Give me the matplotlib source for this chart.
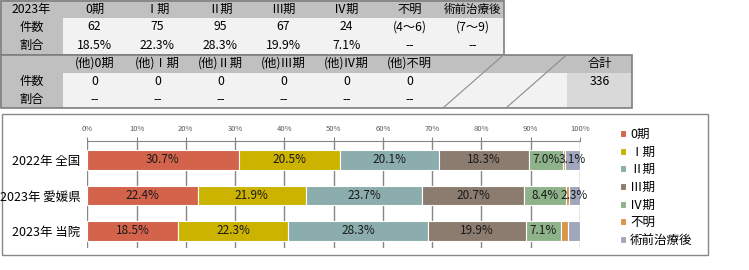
import matplotlib
matplotlib.use("Agg")
import matplotlib.pyplot as plt
from matplotlib.patches import Rectangle
import numpy as np

plt.rcParams['font.family'] = ['Noto Sans CJK JP', 'DejaVu Sans']

# ----------------------
# 表データ（2023年 当院）
# ----------------------
stage_cols = ["0期", "Ⅰ期", "Ⅱ期", "Ⅲ期", "Ⅳ期", "不明", "術前治療後"]
counts_2023 = ["62", "75", "95", "67", "24", "(4～6)", "(7～9)"]
ratio_2023 = ["18.5%", "22.3%", "28.3%", "19.9%", "7.1%", "--", "--"]
other_cols = ["(他)0期", "(他)Ⅰ期", "(他)Ⅱ期", "(他)Ⅲ期", "(他)Ⅳ期", "(他)不明"]
other_counts = ["0", "0", "0", "0", "0", "0"]
other_ratio = ["--", "--", "--", "--", "--", "--"]
total_count = "336"

# ----------------------
# グラフデータ（%）
# ----------------------
groups = ["2022年 全国", "2023年 愛媛県", "2023年 当院"]
stage_names = ["0期", "Ⅰ期", "Ⅱ期", "Ⅲ期", "Ⅳ期", "不明", "術前治療後"]
pct_zenkoku = [30.7, 20.5, 20.1, 18.3, 7.0, 0.3, 3.1]
pct_ehime = [22.4, 21.9, 23.7, 20.7, 8.4, 0.6, 2.3]
pct_touin = [18.5, 22.3, 28.3, 19.9, 7.1, 1.5, 2.4]
# 表示しないラベル (グループ番号, ステージ番号)
hidden_labels = [(0, 5), (1, 5), (2, 5), (2, 6)]

colors = ["#d4634b", "#cbb300", "#8badad", "#8c7c70", "#8eb38a", "#d9954b", "#a0a6bc"]

W, H = 749, 270
fig = plt.figure(figsize=(W / 100, H / 100), dpi=100)

def fx(x):
    return x / W

def fy(y):
    return 1 - y / H

# 背景用の全面Axes（ピクセル座標）
bg = fig.add_axes([0, 0, 1, 1])
bg.set_xlim(0, W)
bg.set_ylim(H, 0)
bg.axis("off")

GRAY = "#c0c0c0"
LIGHT = "#f2f2f2"
EDGE = "#7f7f7f"
cw = 63
tfs = 8.8

def cell(x0, x1, y0, y1, color, text="", fs=tfs):
    bg.add_patch(Rectangle((x0, y0), x1 - x0, y1 - y0, facecolor=color, edgecolor="none"))
    if text:
        bg.text((x0 + x1) / 2, (y0 + y1) / 2, text, ha="center", va="center", fontsize=fs, color="black")

# ---- 上の表 ----
rows1 = [0, 18, 36, 54.5]
cell(0, cw, rows1[0], rows1[1], GRAY, "2023年")
cell(0, cw, rows1[1], rows1[2], GRAY, "件数")
cell(0, cw, rows1[2], rows1[3], GRAY, "割合")
for i, name in enumerate(stage_cols):
    x0, x1 = cw * (i + 1), cw * (i + 2)
    fs = 8.3 if len(name) > 4 else tfs
    cell(x0, x1, rows1[0], rows1[1], GRAY, name, fs)
    cell(x0, x1, rows1[1], rows1[2], LIGHT, counts_2023[i])
    cell(x0, x1, rows1[2], rows1[3], LIGHT, ratio_2023[i])
bg.add_patch(Rectangle((0.6, 0.6), cw * 8 - 0.6, rows1[3] - 0.6, facecolor="none", edgecolor=EDGE, lw=1.2))

# ---- 下の表 ----
rows2 = [54.5, 72.5, 90.5, 108]
cell(0, cw, rows2[0], rows2[1], GRAY)
cell(0, cw, rows2[1], rows2[2], GRAY, "件数")
cell(0, cw, rows2[2], rows2[3], GRAY, "割合")
for i, name in enumerate(other_cols):
    x0, x1 = cw * (i + 1), cw * (i + 2)
    cell(x0, x1, rows2[0], rows2[1], GRAY, name)
    cell(x0, x1, rows2[1], rows2[2], LIGHT, other_counts[i])
    cell(x0, x1, rows2[2], rows2[3], LIGHT, other_ratio[i])
for k in range(2):
    x0, x1 = cw * (7 + k), cw * (8 + k)
    cell(x0, x1, rows2[0], rows2[1], GRAY)
    cell(x0, x1, rows2[1], rows2[3], LIGHT)
    bg.plot([x0 + 2, x1], [rows2[3], rows2[0]], color="#8c8c8c", lw=0.8)
tx0, tx1 = cw * 9, 632
cell(tx0, tx1, rows2[0], rows2[1], GRAY, "合計")
cell(tx0, tx1, rows2[1], rows2[3], "#d9d9d9")
bg.text((tx0 + tx1) / 2, (rows2[1] + rows2[2]) / 2, total_count, ha="center", va="center", fontsize=tfs)
bg.add_patch(Rectangle((0.6, rows2[0]), tx1 - 0.6, rows2[3] - rows2[0], facecolor="none", edgecolor=EDGE, lw=1.2))

# ---- グラフ枠 ----
bg.add_patch(Rectangle((2, 114), 706, 141, facecolor="white", edgecolor="#878787", lw=1))

# ----------------------
# 帯グラフ
# ----------------------
ax = fig.add_axes([fx(87.3), fy(248), (580 - 87.3) / W, (248 - 141) / H])
data = np.array([pct_zenkoku, pct_ehime, pct_touin])
ypos = np.arange(len(groups))
left = np.zeros(len(groups))
handles = []
for j, name in enumerate(stage_names):
    bars = ax.barh(ypos, data[:, j], left=left, height=0.56, color=colors[j],
                   edgecolor="white", linewidth=0.8, zorder=3)
    handles.append(bars[0])
    for g in range(len(groups)):
        if (g, j) in hidden_labels:
            continue
        ax.text(left[g] + data[g, j] / 2, ypos[g], f"{data[g, j]:.1f}%",
                ha="center", va="center", fontsize=8.5, color="#1a1a1a", zorder=4)
    left = left + data[:, j]

ax.set_xlim(0, 100)
ax.set_ylim(2.48, -0.535)
ax.xaxis.tick_top()
ax.set_xticks(range(0, 101, 10))
ax.set_xticklabels([f"{v}%" for v in range(0, 101, 10)])
ax.tick_params(axis="x", labelsize=5.5, labelcolor="#595959", length=3, color="#868686", pad=3)
ax.set_yticks(ypos)
ax.set_yticklabels(groups)
ax.tick_params(axis="y", labelsize=9, length=0, pad=5)
ax.grid(axis="x", color="#868686", lw=1)
ax.set_axisbelow(True)
for s in ["bottom", "left", "right"]:
    ax.spines[s].set_visible(False)
ax.spines["top"].set_color("#868686")
ax.patch.set_alpha(0)

fig.legend(handles, stage_names, loc="upper left", bbox_to_anchor=(fx(620), fy(128)),
           frameon=False, fontsize=9, handlelength=0.5, handleheight=0.5,
           handletextpad=0.3, labelspacing=0.37, borderpad=0, borderaxespad=0)

plt.savefig("out.png", dpi=100)
plt.close()
